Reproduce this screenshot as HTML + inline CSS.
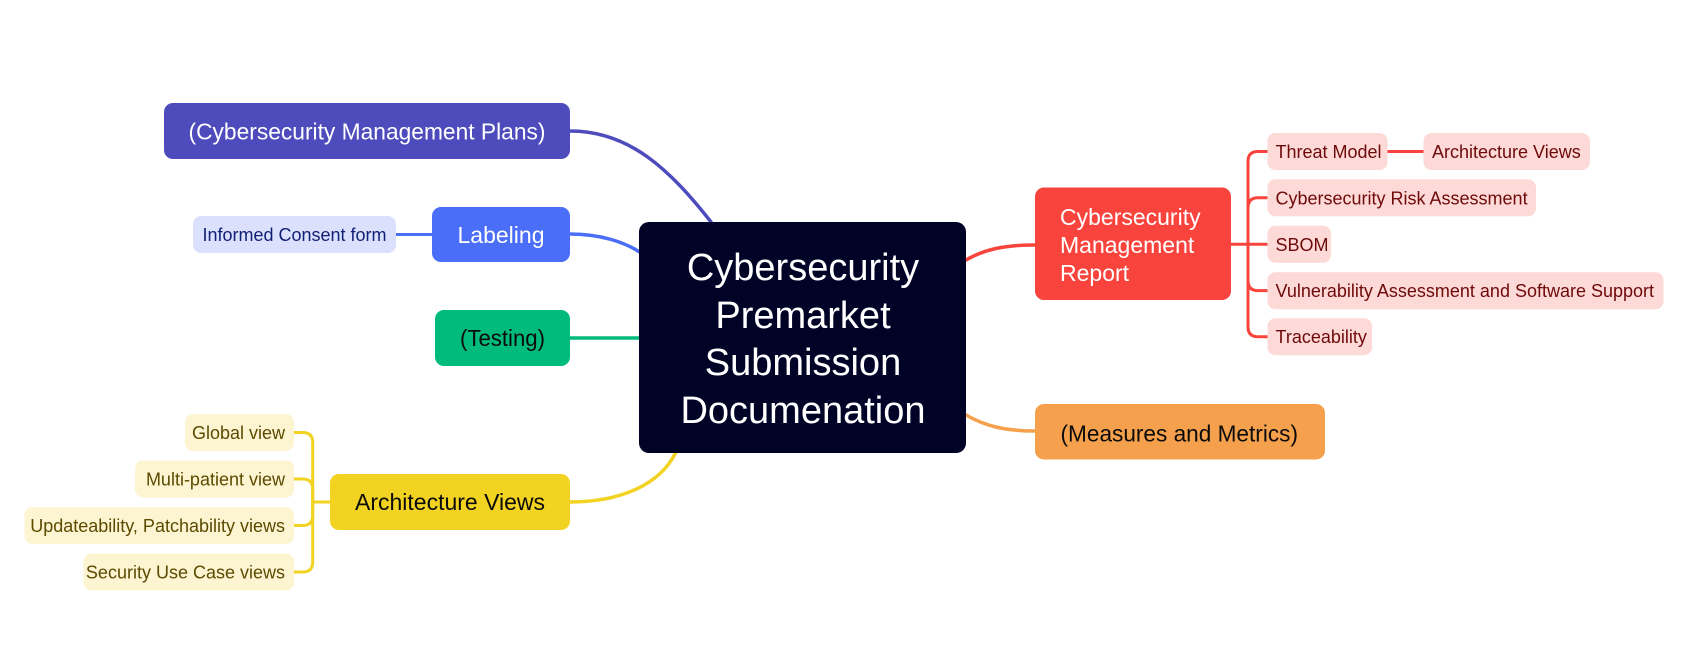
<!DOCTYPE html>
<html><head><meta charset="utf-8"><style>
html,body{margin:0;padding:0;background:#fff;}
svg{display:block;}
text{font-family:"Liberation Sans",Arial,sans-serif;}
</style></head><body>
<svg width="1684" height="648" viewBox="0 0 1684 648" xmlns="http://www.w3.org/2000/svg">
<rect width="1684" height="648" fill="#fff"/>
<!-- connectors -->
<g fill="none" stroke-linecap="round">
<path d="M570,131 C630,131 670,170 711,222" stroke="#4e4bbd" stroke-width="3.5"/>
<path d="M570,234 C600,234 625,242 641,253" stroke="#4b6ef8" stroke-width="3.5"/>
<path d="M396,234.5 H432" stroke="#4b6ef8" stroke-width="3"/>
<path d="M570,338 H640" stroke="#00bb7b" stroke-width="3.5"/>
<path d="M570,502 C620,502 660,485 676,452" stroke="#f2d321" stroke-width="3.5"/>
<path d="M966,260 C985,249 1005,245 1035,245" stroke="#f8443d" stroke-width="3.5"/>
<path d="M966,415 C985,426 1005,431 1035,431" stroke="#f5a04c" stroke-width="3.5"/>
<!-- yellow bracket -->
<g stroke="#f2d321" stroke-width="3">
<path d="M330,502 H312.7 V442.5 Q312.7,432.5 302.7,432.5 H294"/>
<path d="M312.7,502 V489 Q312.7,479 302.7,479 H294"/>
<path d="M312.7,502 V515.5 Q312.7,525.5 302.7,525.5 H294"/>
<path d="M312.7,502 V562 Q312.7,572 302.7,572 H294"/>
</g>
<!-- red bracket -->
<g stroke="#f8443d" stroke-width="3">
<path d="M1230,244.3 H1267"/>
<path d="M1248,244.3 V161.5 Q1248,151.5 1258,151.5 H1268"/>
<path d="M1248,244.3 V207.8 Q1248,197.8 1258,197.8 H1268"/>
<path d="M1248,244.3 V280.6 Q1248,290.6 1258,290.6 H1268"/>
<path d="M1248,244.3 V326.7 Q1248,336.7 1258,336.7 H1268"/>
<path d="M1387,151.5 H1424"/>
</g>
</g>

<!-- central -->
<rect x="639" y="222" width="327" height="231" rx="10" fill="#010326"/>
<g fill="#fff" font-size="38" text-anchor="middle">
<text x="803" y="280">Cybersecurity</text>
<text x="803" y="328">Premarket</text>
<text x="803" y="375">Submission</text>
<text x="803" y="423">Documenation</text>
</g>

<!-- left main nodes -->
<rect x="164" y="103" width="406" height="56" rx="9" fill="#4e4bbd"/>
<text x="367" y="139.5" font-size="23" fill="#fff" text-anchor="middle" textLength="357" lengthAdjust="spacingAndGlyphs">(Cybersecurity Management Plans)</text>

<rect x="432" y="207" width="138" height="55" rx="9" fill="#4b6ef8"/>
<text x="501" y="242.8" font-size="23" fill="#fff" text-anchor="middle">Labeling</text>

<rect x="193" y="216" width="203" height="37" rx="8" fill="#dbe1fd"/>
<text x="294.5" y="241" font-size="18" fill="#101f74" text-anchor="middle">Informed Consent form</text>

<rect x="435" y="310" width="135" height="56" rx="9" fill="#00bb7b"/>
<text x="502.5" y="346.2" font-size="23" fill="#0b0b0b" text-anchor="middle" textLength="85" lengthAdjust="spacingAndGlyphs">(Testing)</text>

<rect x="330" y="474" width="240" height="56" rx="9" fill="#f2d321"/>
<text x="450" y="510.2" font-size="23" fill="#0b0b0b" text-anchor="middle" textLength="190" lengthAdjust="spacingAndGlyphs">Architecture Views</text>

<!-- yellow children -->
<g fill="#fdf5d2">
<rect x="185" y="414" width="109" height="37" rx="8"/>
<rect x="135" y="460.5" width="159" height="37" rx="8"/>
<rect x="24.5" y="507" width="269.5" height="37" rx="8"/>
<rect x="83.5" y="553.5" width="210.5" height="37" rx="8"/>
</g>
<g fill="#5c4a00" font-size="18" text-anchor="end">
<text x="285" y="439">Global view</text>
<text x="285" y="485.5">Multi-patient view</text>
<text x="285" y="532">Updateability, Patchability views</text>
<text x="285" y="578.5">Security Use Case views</text>
</g>

<!-- right main nodes -->
<rect x="1035" y="187.5" width="196" height="112.5" rx="9" fill="#f8443d"/>
<g fill="#fff" font-size="23">
<text x="1060" y="225">Cybersecurity</text>
<text x="1060" y="253">Management</text>
<text x="1060" y="281">Report</text>
</g>

<rect x="1035" y="404" width="290" height="55.5" rx="9" fill="#f5a04c"/>
<text x="1060.5" y="441.5" font-size="23" fill="#0b0b0b" textLength="237.5" lengthAdjust="spacingAndGlyphs">(Measures and Metrics)</text>

<!-- red children -->
<g fill="#fdd9d7">
<rect x="1267.5" y="133" width="120" height="37" rx="8"/>
<rect x="1423.5" y="133" width="166.5" height="37" rx="8"/>
<rect x="1267.5" y="179.3" width="268.5" height="37" rx="8"/>
<rect x="1267.5" y="225.8" width="63.5" height="37" rx="8"/>
<rect x="1267.5" y="272.2" width="396" height="37" rx="8"/>
<rect x="1267.5" y="318.2" width="104.5" height="37" rx="8"/>
</g>
<g fill="#6e0a0a" font-size="18">
<text x="1275.5" y="158">Threat Model</text>
<text x="1432" y="158">Architecture Views</text>
<text x="1275.5" y="204.5">Cybersecurity Risk Assessment</text>
<text x="1275.5" y="250.8">SBOM</text>
<text x="1275.5" y="297.2">Vulnerability Assessment and Software Support</text>
<text x="1275.5" y="343.2">Traceability</text>
</g>
</svg>
</body></html>
